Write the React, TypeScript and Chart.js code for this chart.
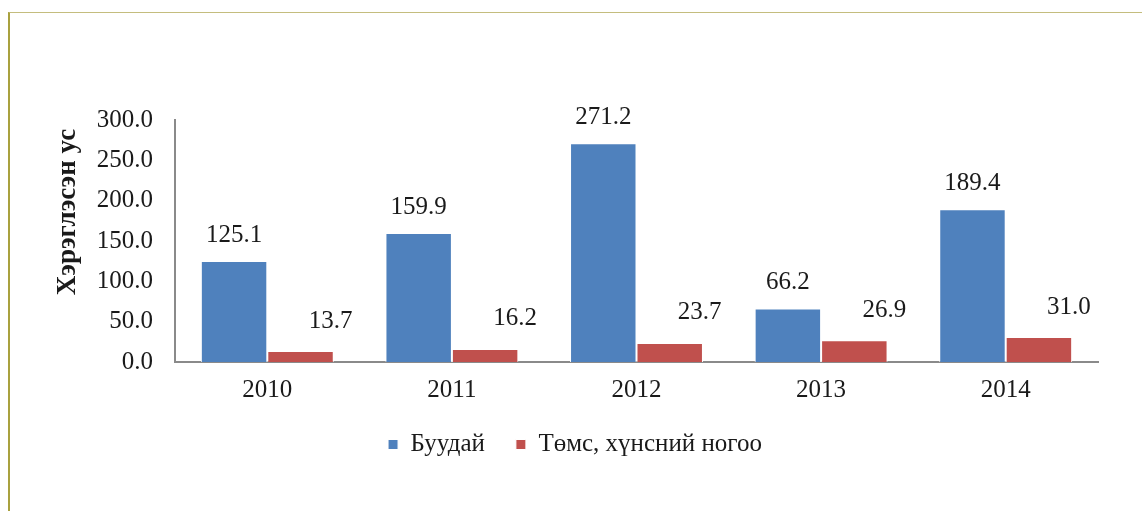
import React, { useEffect, useRef } from "react";
import { Chart, registerables } from "chart.js";

Chart.register(...registerables);

const years = ["2010", "2011", "2012", "2013", "2014"];
const wheat = [125.1, 159.9, 271.2, 66.2, 189.4];
const potatoVeg = [13.7, 16.2, 23.7, 26.9, 31.0];
const seriesNames = ["Буудай", "Төмс, хүнсний ногоо"];
const yTitle = "Хэрэглэсэн ус";

const FONT = "'Liberation Serif', 'Times New Roman', serif";
const FS = 25;

const labelPlugin = {
  id: "barValueLabels",
  afterDatasetsDraw(chart: any) {
    const ctx = chart.ctx;
    ctx.save();
    ctx.font = `${FS}px ${FONT}`;
    ctx.fillStyle = "#1a1a1a";
    ctx.textAlign = "center";
    ctx.textBaseline = "middle";
    chart.data.datasets.forEach((ds: any, di: number) => {
      const meta = chart.getDatasetMeta(di);
      meta.data.forEach((el: any, i: number) => {
        const v = ds.data[i] as number;
        const dx = di === 0 ? 0 : 30;
        const dy = di === 0 ? 26 : 30;
        ctx.fillText(v.toFixed(1), el.x + dx, el.y - dy);
      });
    });
    // y-axis title
    ctx.save();
    ctx.translate(68, 212);
    ctx.rotate(-Math.PI / 2);
    ctx.font = `bold 27px ${FONT}`;
    ctx.fillText(yTitle, 0, 0);
    ctx.restore();
    ctx.restore();
  },
};

export default function App() {
  const ref = useRef<HTMLCanvasElement | null>(null);
  useEffect(() => {
    if (!ref.current) return;
    const chart = new Chart(ref.current, {
      type: "bar",
      data: {
        labels: years,
        datasets: [
          {
            label: seriesNames[0],
            data: wheat,
            backgroundColor: "#4f81bd",
            borderColor: "#ffffff",
            borderWidth: 1,
            categoryPercentage: 0.72,
            barPercentage: 1,
          },
          {
            label: seriesNames[1],
            data: potatoVeg,
            backgroundColor: "#c0504d",
            borderColor: "#ffffff",
            borderWidth: 1,
            categoryPercentage: 0.72,
            barPercentage: 1,
          },
        ],
      },
      options: {
        animation: false,
        responsive: false,
        maintainAspectRatio: false,
        layout: { padding: { left: 52, top: 120, right: 44, bottom: 44 } },
        plugins: {
          tooltip: { enabled: false },
          legend: {
            position: "bottom",
            labels: {
              boxWidth: 10,
              boxHeight: 10,
              padding: 31,
              color: "#1a1a1a",
              font: { family: FONT, size: FS },
            },
          },
        },
        scales: {
          x: {
            grid: { display: false },
            border: { display: true, color: "#8a8a8a", width: 2 },
            ticks: {
              color: "#1a1a1a",
              font: { family: FONT, size: FS },
              padding: 5,
            },
            afterFit: (s: any) => {
              s.height = 39;
            },
          },
          y: {
            min: 0,
            max: 300,
            grid: { display: false },
            border: { display: true, color: "#8a8a8a", width: 2 },
            ticks: {
              stepSize: 50,
              color: "#1a1a1a",
              font: { family: FONT, size: FS },
              padding: 14,
              callback: (v: any) => Number(v).toFixed(1),
            },
            afterFit: (s: any) => {
              s.width = 123;
            },
          },
        },
      },
      plugins: [labelPlugin],
    });
    return () => chart.destroy();
  }, []);
  return (
    <div style={{ position: "fixed", left: 0, top: 0, width: 1142, height: 511, background: "#fff", overflow: "hidden" }}>
      <div
        style={{
          position: "absolute",
          left: 8,
          top: 12,
          width: 1300,
          height: 700,
          borderTop: "1.5px solid #c4bd7e",
          borderLeft: "2px solid #a9a13f",
          boxSizing: "border-box",
        }}
      />
      <canvas ref={ref} width={1142} height={511} style={{ position: "absolute", left: 0, top: 0 }} />
    </div>
  );
}
